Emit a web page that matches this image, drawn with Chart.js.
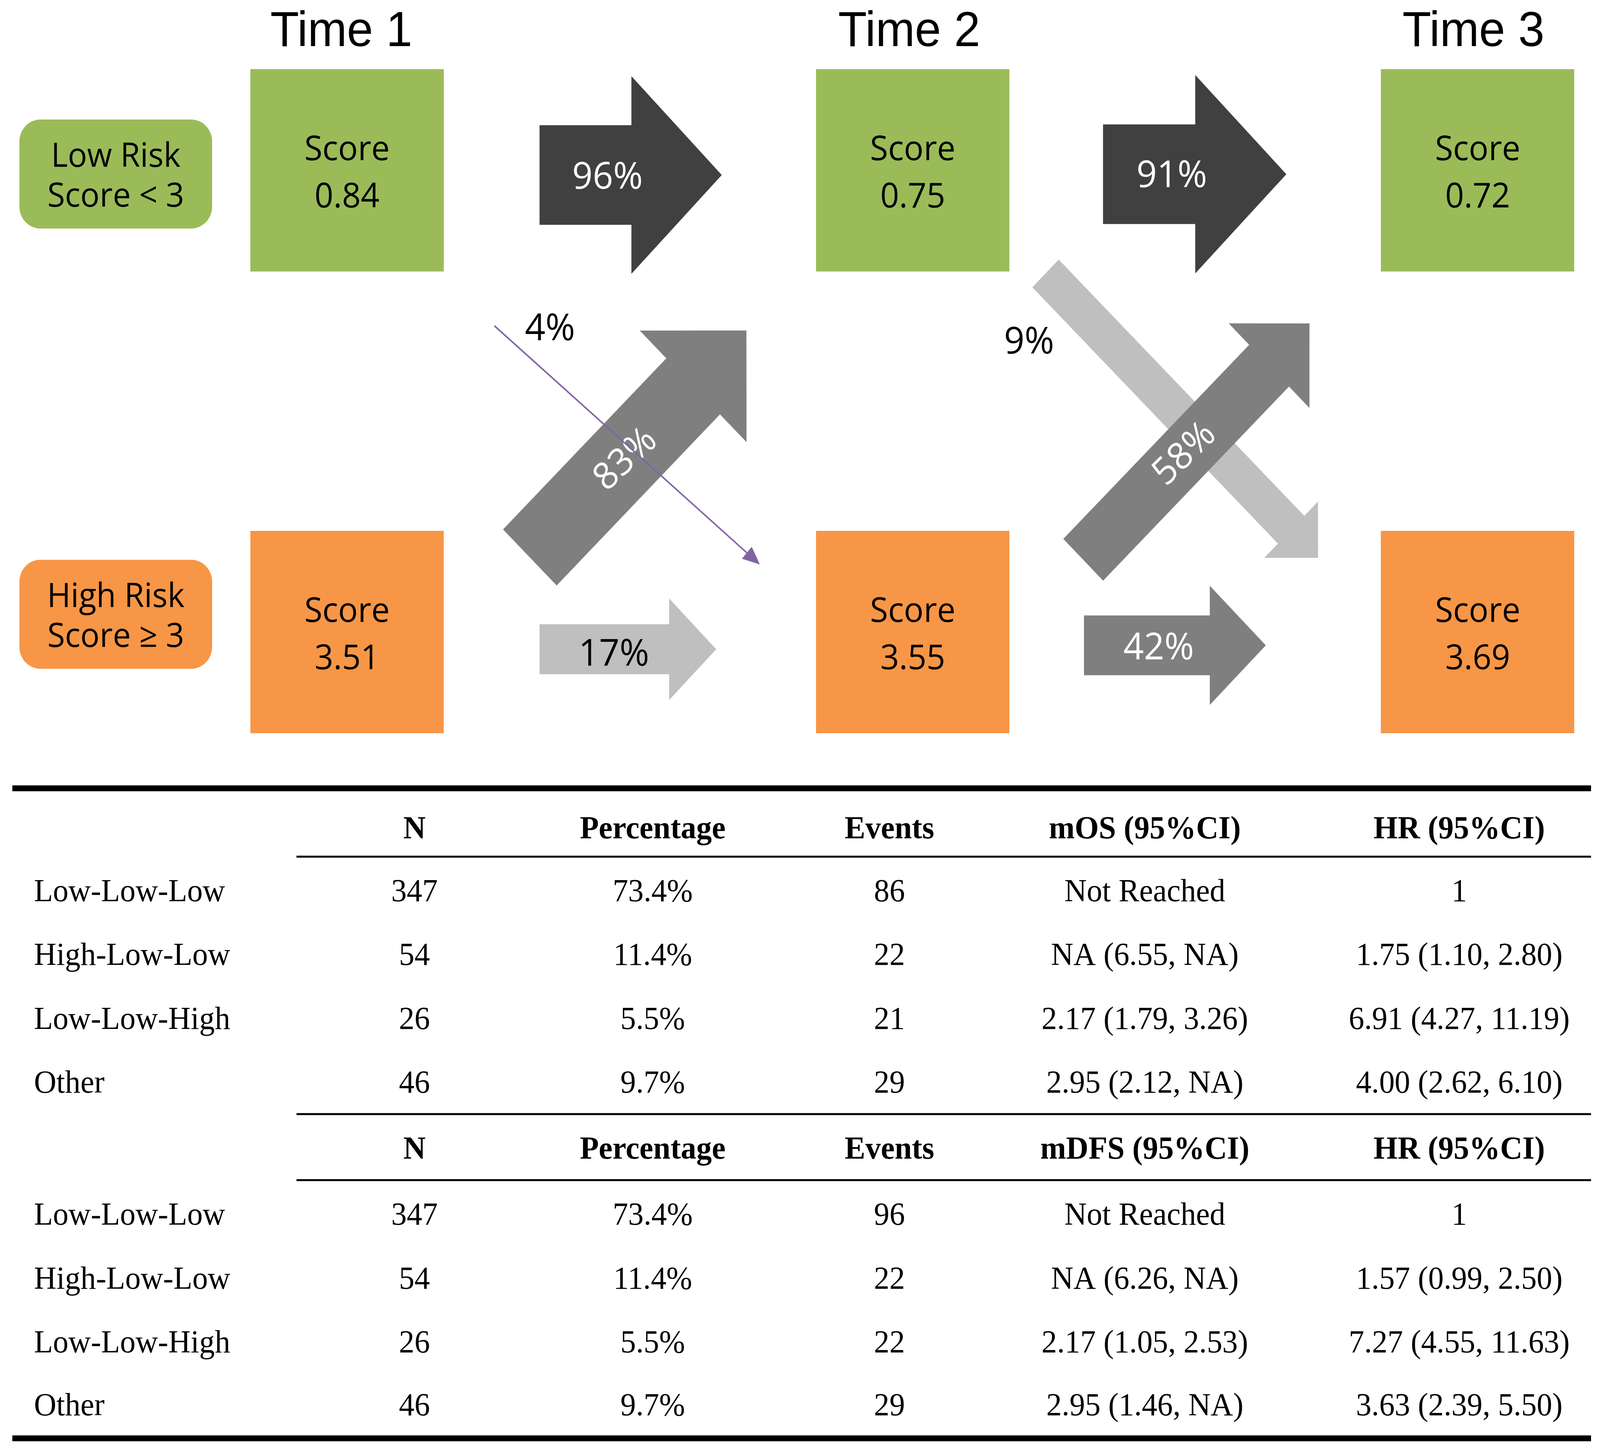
<!DOCTYPE html>
<html>
<head>
<meta charset="utf-8">
<title>Risk score transitions</title>
<script src="https://cdn.jsdelivr.net/npm/chart.js@4.4.1/dist/chart.umd.min.js"></script>
<style>
  html, body { margin: 0; padding: 0; background: #ffffff; overflow: hidden; }
  #wrap { width: 100vw; height: 100vh; position: relative; }
  #chartFlow { display: block; }
</style>
</head>
<body>
<div id="wrap"><canvas id="chartFlow"></canvas></div>
<script>
// ---- data ----
const timeLabels = ["Time 1", "Time 2", "Time 3"];
const riskLabels = [["Low Risk", "Score < 3"], ["High Risk", "Score \u2265 3"]];
const lowScores = [0.84, 0.75, 0.72];
const highScores = [3.51, 3.55, 3.69];

// transitions between consecutive time points (%)
const lowToLow = [96, 91];
const lowToHigh = [4, 9];
const highToLow = [83, 58];
const highToHigh = [17, 42];

const groups = ["Low-Low-Low", "High-Low-Low", "Low-Low-High", "Other"];
const nPatients = [347, 54, 26, 46];
const percentages = ["73.4%", "11.4%", "5.5%", "9.7%"];
const osHeader = ["N", "Percentage", "Events", "mOS (95%CI)", "HR (95%CI)"];
const osEvents = [86, 22, 21, 29];
const osMedian = ["Not Reached", "NA (6.55, NA)", "2.17 (1.79, 3.26)", "2.95 (2.12, NA)"];
const osHR = ["1", "1.75 (1.10, 2.80)", "6.91 (4.27, 11.19)", "4.00 (2.62, 6.10)"];
const dfsHeader = ["N", "Percentage", "Events", "mDFS (95%CI)", "HR (95%CI)"];
const dfsEvents = [96, 22, 22, 29];
const dfsMedian = ["Not Reached", "NA (6.26, NA)", "2.17 (1.05, 2.53)", "2.95 (1.46, NA)"];
const dfsHR = ["1", "1.57 (0.99, 2.50)", "7.27 (4.55, 11.63)", "3.63 (2.39, 5.50)"];

// ---- layout (units of the 4285 x 3717 reference) ----
const W = 4285, H = 3717;
const GREEN = "#9BBB59", ORANGE = "#F79646";
const DARK = "#404040", MID = "#7F7F7F", LIGHT = "#BFBFBF", PURPLE = "#8064A2";
const SANS = '"Open Sans", "Noto Sans", sans-serif';
const ARIAL = '"Liberation Sans", Arial, sans-serif';
const SERIF = '"Liberation Serif", "Times New Roman", serif';

const boxX = [929.5, 2444.5, 3957.5];
const boxY = [436, 1618];
const boxSide = 518;
const timeX = [914, 2435, 3946];
const pill = { x: 52, w: 516, h: 279, r: 56, y: [306, 1433] };

// one entry per step (Time1->2, Time2->3)
const arrowsLL = [
  { tail: [1445, 448], tip: [1933, 448], body: 255, head: 506, len: 242, fill: DARK, ink: "#fff", at: [1627, 483] },
  { tail: [2954, 446], tip: [3445, 446], body: 255, head: 508, len: 244, fill: DARK, ink: "#fff", at: [3138, 479] }
];
const arrowsHH = [
  { tail: [1445, 1662], tip: [1918, 1662], body: 128, head: 260, len: 126, fill: LIGHT, ink: "#000", at: [1644, 1704] },
  { tail: [2903, 1652], tip: [3390, 1652], body: 153, head: 305, len: 150, fill: MID, ink: "#fff", at: [3103, 1688] }
];
const arrowsHL = [
  { tail: [1419, 1427], tip: [1999, 846], body: 203, head: 404, len: 202, fill: MID, ink: "#fff", at: [1676, 1177], rot: -42 },
  { tail: [2901, 1433], tip: [3507, 828], body: 151, head: 306, len: 153, fill: MID, ink: "#fff", at: [3173, 1163], rot: -43 }
];
const arrowsLH = [
  { line: true, tail: [1324, 834], tip: [2035, 1445], body: 4, head: 40, len: 46, fill: PURPLE, ink: "#000", at: [1473, 871] },
  { tail: [2800, 700], tip: [3530, 1428], body: 100, head: 204, len: 102, fill: LIGHT, ink: "#000", at: [2756, 905] }
];

const tableCols = [1110, 1748, 2382, 3066, 3908];
const labelX = 91;
const tableFont = 83;
const osBase = { head: 2146, rows: [2307, 2470, 2634, 2797] };
const dfsBase = { head: 2966, rows: [3135, 3299, 3462, 3623] };
const rules = [
  { y: 2018, t: 15, x0: 33 }, { y: 2193, t: 5, x0: 794 }, { y: 2852, t: 5, x0: 794 },
  { y: 3021, t: 5, x0: 794 }, { y: 3682, t: 15, x0: 33 }
];
const ruleRight = 4261;

// pixels per reference unit, per axis
function factors(chart) {
  const a = chart.chartArea;
  if (!a) return { kx: 1, ky: 1 };
  return { kx: a.width / W, ky: a.height / H };
}

function mapper(chart) {
  const { kx, ky } = factors(chart);
  return {
    kx, ky,
    sx: v => chart.scales.x.getPixelForValue(v),
    sy: v => chart.scales.y.getPixelForValue(v)
  };
}

// text is laid out in reference units at a mapped anchor
function drawText(ctx, m, str, x, y, font, opt) {
  ctx.save();
  ctx.translate(m.sx(x), m.sy(y));
  ctx.scale(m.kx, m.ky);
  if (opt && opt.rot) ctx.rotate(opt.rot * Math.PI / 180);
  ctx.font = font;
  ctx.fillStyle = (opt && opt.color) || "#000";
  ctx.textAlign = (opt && opt.align) || "center";
  ctx.textBaseline = (opt && opt.baseline) || "alphabetic";
  ctx.fillText(str, 0, 0);
  ctx.restore();
}

function buildRows(events, median, hr) {
  return groups.map((g, i) => [g, String(nPatients[i]), percentages[i], String(events[i]), median[i], hr[i]]);
}

function arrowShape(ctx, m, a) {
  const [x0, y0] = a.tail, [x1, y1] = a.tip;
  const d = Math.hypot(x1 - x0, y1 - y0);
  const ux = (x1 - x0) / d, uy = (y1 - y0) / d, nx = -uy, ny = ux;
  const bx = x1 - ux * a.len, by = y1 - uy * a.len;
  const hb = a.body / 2, hh = a.head / 2;
  const path = pts => {
    ctx.beginPath();
    pts.forEach((p, i) => (i ? ctx.lineTo(m.sx(p[0]), m.sy(p[1])) : ctx.moveTo(m.sx(p[0]), m.sy(p[1]))));
    ctx.closePath();
    ctx.fill();
  };
  ctx.fillStyle = a.fill;
  if (a.line) {
    ctx.strokeStyle = a.fill;
    ctx.lineWidth = a.body * Math.min(m.kx, m.ky);
    ctx.beginPath();
    ctx.moveTo(m.sx(x0), m.sy(y0));
    ctx.lineTo(m.sx(bx + ux * 4), m.sy(by + uy * 4));
    ctx.stroke();
    path([[x1, y1], [bx + nx * hh, by + ny * hh], [bx - nx * hh, by - ny * hh]]);
    return;
  }
  path([
    [x0 + nx * hb, y0 + ny * hb], [bx + nx * hb, by + ny * hb], [bx + nx * hh, by + ny * hh],
    [x1, y1],
    [bx - nx * hh, by - ny * hh], [bx - nx * hb, by - ny * hb], [x0 - nx * hb, y0 - ny * hb]
  ]);
}

function arrowLabel(ctx, m, a, value) {
  drawText(ctx, m, value + "%", a.at[0], a.at[1], "96px " + SANS, {
    color: a.ink, rot: a.rot, baseline: a.rot ? "middle" : "alphabetic"
  });
}

const flowPlugin = {
  id: "flow",
  beforeDatasetsDraw(chart) {
    const ctx = chart.ctx;
    const m = mapper(chart);
    ctx.save();
    // risk pills
    riskLabels.forEach((lines, i) => {
      ctx.fillStyle = i === 0 ? GREEN : ORANGE;
      ctx.beginPath();
      ctx.roundRect(m.sx(pill.x), m.sy(pill.y[i]), m.sx(pill.x + pill.w) - m.sx(pill.x),
        m.sy(pill.y[i] + pill.h) - m.sy(pill.y[i]), { x: pill.r * m.kx, y: pill.r * m.ky });
      ctx.fill();
      const cx = pill.x + pill.w / 2, cy = pill.y[i] + pill.h / 2;
      drawText(ctx, m, lines[0], cx, cy - 19, "86px " + SANS);
      drawText(ctx, m, lines[1], cx, cy + 83, "86px " + SANS);
    });
    // time headings
    timeLabels.forEach((t, i) => drawText(ctx, m, t, timeX[i], 118, "126px " + ARIAL));
    ctx.restore();
  },
  afterDatasetsDraw(chart) {
    const ctx = chart.ctx;
    const m = mapper(chart);
    ctx.save();
    // scores inside boxes
    chart.data.datasets.forEach(ds => {
      ds.data.forEach(p => {
        drawText(ctx, m, "Score", p.x, p.y - 26, "88px " + SANS);
        drawText(ctx, m, p.score.toFixed(2), p.x, p.y + 95, "88px " + SANS);
      });
    });
    // transitions
    arrowsLL.forEach((a, i) => { arrowShape(ctx, m, a); arrowLabel(ctx, m, a, lowToLow[i]); });
    arrowsHH.forEach((a, i) => { arrowShape(ctx, m, a); arrowLabel(ctx, m, a, highToHigh[i]); });
    arrowShape(ctx, m, arrowsLH[1]);
    arrowLabel(ctx, m, arrowsLH[1], lowToHigh[1]);
    arrowsHL.forEach((a, i) => { arrowShape(ctx, m, a); arrowLabel(ctx, m, a, highToLow[i]); });
    arrowShape(ctx, m, arrowsLH[0]);
    arrowLabel(ctx, m, arrowsLH[0], lowToHigh[0]);

    // table rules
    ctx.fillStyle = "#000";
    rules.forEach(r => {
      const top = m.sy(r.y - r.t / 2);
      ctx.fillRect(m.sx(r.x0), top, m.sx(ruleRight) - m.sx(r.x0), m.sy(r.y + r.t / 2) - top);
    });
    // table text
    const block = (header, base, rows) => {
      const bold = "bold " + tableFont + "px " + SERIF, plain = tableFont + "px " + SERIF;
      header.forEach((h, c) => drawText(ctx, m, h, tableCols[c], base.head, bold));
      rows.forEach((row, r) => {
        drawText(ctx, m, row[0], labelX, base.rows[r], plain, { align: "left" });
        row.slice(1).forEach((cell, c) => drawText(ctx, m, cell, tableCols[c], base.rows[r], plain));
      });
    };
    block(osHeader, osBase, buildRows(osEvents, osMedian, osHR));
    block(dfsHeader, dfsBase, buildRows(dfsEvents, dfsMedian, dfsHR));
    ctx.restore();
  }
};

// square score boxes drawn as point images, sized to the current scale
function boxStyle(color) {
  return c => {
    const { kx, ky } = factors(c.chart);
    const img = document.createElement("canvas");
    img.width = Math.max(1, Math.round(boxSide * kx));
    img.height = Math.max(1, Math.round(boxSide * ky));
    const g = img.getContext("2d");
    g.fillStyle = color;
    g.fillRect(0, 0, img.width, img.height);
    return img;
  };
}

const data = {
  datasets: [
    {
      label: "Low Risk",
      data: lowScores.map((s, i) => ({ x: boxX[i], y: boxY[0], score: s })),
      pointStyle: boxStyle(GREEN),
      pointRadius: 10,
      borderWidth: 0,
      clip: false
    },
    {
      label: "High Risk",
      data: highScores.map((s, i) => ({ x: boxX[i], y: boxY[1], score: s })),
      pointStyle: boxStyle(ORANGE),
      pointRadius: 10,
      borderWidth: 0,
      clip: false
    }
  ]
};

const configFlow = {
  type: "scatter",
  data,
  options: {
    responsive: true,
    maintainAspectRatio: false,
    animation: false,
    events: [],
    layout: { padding: 0, autoPadding: false },
    plugins: { legend: { display: false }, tooltip: { enabled: false } },
    scales: {
      x: { type: "linear", min: 0, max: W, display: false },
      y: { type: "linear", min: 0, max: H, reverse: true, display: false }
    }
  },
  plugins: [flowPlugin]
};

var chartFlow = new Chart(document.getElementById("chartFlow"), configFlow);
</script>
</body>
</html>
